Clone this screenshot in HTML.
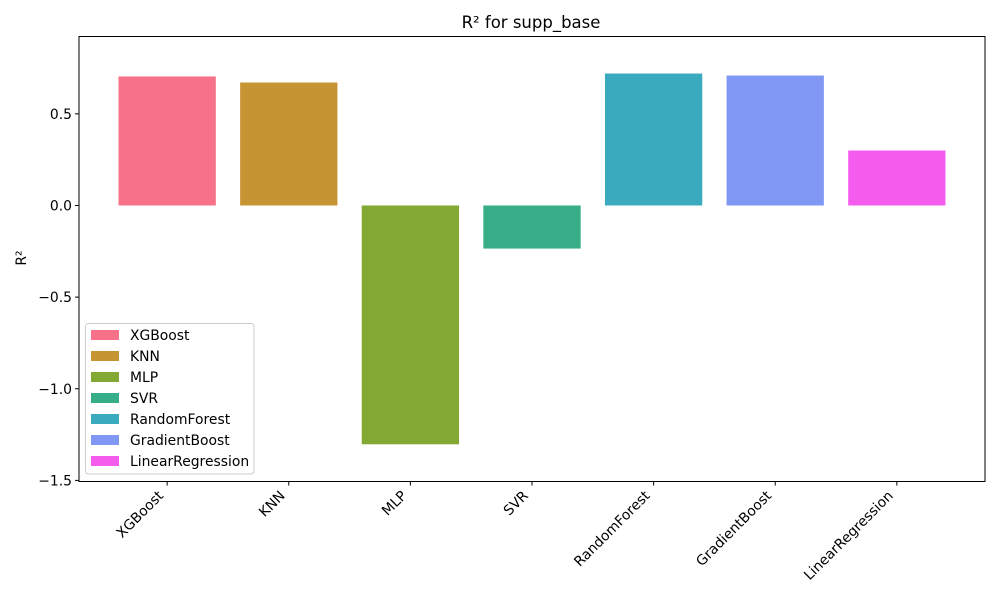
<!DOCTYPE html>
<html><head><meta charset="utf-8"><style>
body{margin:0;background:#fff;}
svg text{font-family:"DejaVu Sans","Liberation Sans",sans-serif;fill:#000;}
</style></head><body>
<svg id="chart" width="1000" height="600" viewBox="0 0 1000 600" xmlns="http://www.w3.org/2000/svg">
<rect width="1000" height="600" fill="#fff"/>
<text x="531" y="28" font-size="16.5" text-anchor="middle">R² for supp_base</text>
<text x="26" y="258" font-size="13.9" text-anchor="middle" transform="rotate(-90 26 258)">R²</text>
<g id="bars"></g><g id="yticks"></g><g id="xticks"></g>
<rect x="79" y="36.5" width="906" height="445" fill="none" stroke="#000" stroke-width="1"/>
<g id="legend"></g>
</svg>
<script>
const categories=["XGBoost","KNN","MLP","SVR","RandomForest","GradientBoost","LinearRegression"];
const values=[0.704,0.671,-1.303,-0.235,0.720,0.709,0.300];
const colors=["#f77189","#c69432","#83a834","#37ae88","#3aabbe","#8197f4","#f45ced"];
const yTicks=[0.5,0.0,-0.5,-1.0,-1.5];
const yTickLabels=["0.5","0.0","\u22120.5","\u22121.0","\u22121.5"];
const NS="http://www.w3.org/2000/svg";
const L=79,R=985,T=36.5,B=481.5,yMin=-1.506,yMax=0.922,xMin=-0.725,xMax=6.725;
const y=v=>B-(v-yMin)/(yMax-yMin)*(B-T);
const x=i=>L+(i-xMin)/(xMax-xMin)*(R-L);
const bw=0.8*(R-L)/(xMax-xMin);
function mk(t,a,p){const e=document.createElementNS(NS,t);for(const k in a)e.setAttribute(k,a[k]);p.appendChild(e);return e;}
const gb=document.getElementById('bars'),gy=document.getElementById('yticks'),gx=document.getElementById('xticks'),gl=document.getElementById('legend');
values.forEach((v,i)=>{
 const r=mk('rect',{x:x(i)-bw/2,y:Math.min(y(v),y(0)),width:bw,height:Math.abs(y(v)-y(0)),fill:colors[i]},gb);
 
 
});
yTicks.forEach((v,i)=>{
 const l=mk('line',{x1:L-4,x2:L,y1:y(v),y2:y(v),stroke:'#000'},gy);
 
 
 const t=mk('text',{x:L-7,y:y(v)+5,'font-size':13.9,'text-anchor':'end'},gy);
 t.textContent=yTickLabels[i];
 
 
});
categories.forEach((c,i)=>{
 const cx=x(i);
 const l=mk('line',{x1:cx,x2:cx,y1:B,y2:B+4,stroke:'#000'},gx);
 
 
 const ax=cx-3,ay=B+15;
 const t=mk('text',{x:ax,y:ay,'font-size':13.9,'text-anchor':'end',transform:`rotate(-45 ${ax} ${ay})`},gx);
 t.textContent=c;
 
 
});
const box=mk('rect',{x:85.5,y:323.5,width:168.5,height:150.5,rx:3,fill:'#fff','fill-opacity':0.8,stroke:'#ccc'},gl);


categories.forEach((c,i)=>{
 const yy=330+i*21;
 const p=mk('rect',{x:91,y:yy,width:28,height:10,fill:colors[i]},gl);
 
 
 const t=mk('text',{x:130,y:yy+10,'font-size':13.9},gl);
 t.textContent=c;
 
 
});
</script>
</body></html>
